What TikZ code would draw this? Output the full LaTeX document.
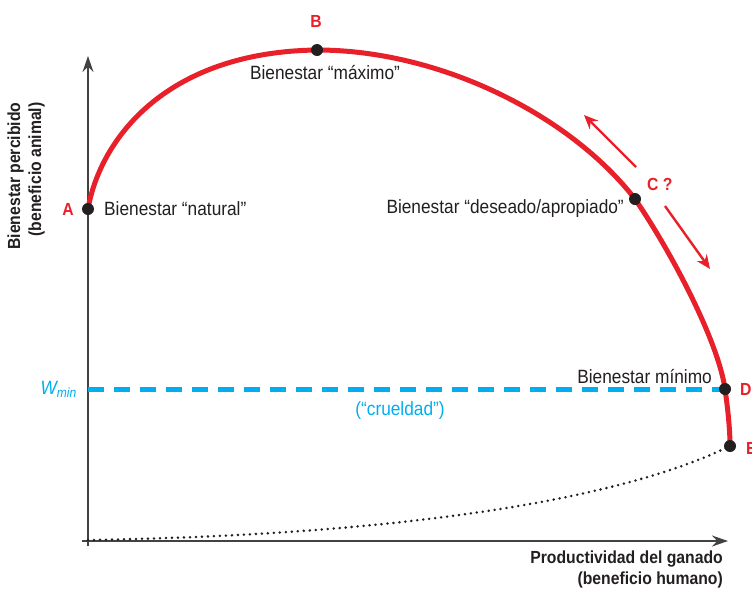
\documentclass[tikz,border=0pt]{standalone}
\usepackage{fontspec}
\setmainfont{Liberation Sans}[FakeStretch=0.9]
\usetikzlibrary{arrows.meta}
\definecolor{redc}{HTML}{E8202A}
\definecolor{bluec}{HTML}{00AEEF}
\definecolor{ink}{HTML}{231F20}
\begin{document}
\begin{tikzpicture}[x=1pt,y=-1pt,
  every node/.style={font=\fontsize{19.2}{22}\selectfont, text=ink, inner sep=0pt},
  dot/.style={circle, fill=ink, minimum size=12pt, inner sep=0pt},
  axis/.style={draw=ink!85, line width=1.4pt, -{Stealth[length=16pt,width=11pt]}},
  redcurve/.style={draw=redc, line width=5pt},
  redarrow/.style={draw=redc, line width=2.4pt, -{Stealth[length=14pt,width=12pt]}},
  letter/.style={font=\fontsize{17.5}{19}\selectfont\bfseries, text=redc},
  axlabel/.style={font=\fontsize{17.5}{21}\selectfont\bfseries, align=right},
  cyantext/.style={text=bluec}
]
\useasboundingbox (0,0) rectangle (752,592);
% axes
\coordinate (ytop) at (88,56);
\coordinate (xend) at (728,541);
\coordinate (ystart) at (88,546);
\coordinate (xstart) at (82,541);
\draw[axis] (ystart) -- (ytop);
\draw[axis] (xstart) -- (xend);
% points
\coordinate (A) at (88,209);
\coordinate (B) at (317,50);
\coordinate (C) at (635,199);
\coordinate (D) at (725,389);
\coordinate (E) at (730,446);
\coordinate (W0) at (88,389);
\coordinate (S0) at (88,540);
% dashed line
\draw[bluec, line width=5pt, dash pattern=on 16pt off 10pt] (W0) -- (D);
% dotted curve
\draw[ink, line width=2.8pt, line cap=round, dash pattern=on 0pt off 6pt] (S0) .. controls (400,535) and (620,500) .. (E);
% red curve
\draw[redcurve] (A) .. controls (100,140) and (165,52) .. (B)
  .. controls (440,50) and (570,115) .. (C)
  .. controls (670,250) and (718,340) .. (D)
  .. controls (728,410) and (730,430) .. (E);
% dots
\node[dot] (nA) at (A) {};
\node[dot] (nB) at (B) {};
\node[dot] (nC) at (C) {};
\node[dot] (nD) at (D) {};
\node[dot] (nE) at (E) {};
% red arrows
\coordinate (u1) at (636,167);
\coordinate (u2) at (584,115);
\coordinate (l1) at (665,206);
\coordinate (l2) at (710,269);
\draw[redarrow] (u1) -- (u2);
\draw[redarrow] (l1) -- (l2);
% letters
\node[letter] (lA) at (68,209) {A};
\node[letter] (lB) at (316,21) {B};
\node[letter, anchor=west] (lC) at (647,184) {C ?};
\node[letter, anchor=west] (lD) at (740,389) {D};
\node[letter, anchor=west] (lE) at (746,448) {E};
% labels
\node[anchor=west] (tA) at (104,209) {Bienestar “natural”};
\node (tB) at (325,73) {Bienestar “máximo”};
\node[anchor=east] (tC) at (624,209) {Bienestar “deseado/apropiado”};
\node[anchor=east] (tD) at (712,377) {Bienestar mínimo};
\node[cyantext, anchor=east] (wmin) at (77,389) {\itshape W\textsubscript{min}};
\node[cyantext] (cru) at (400,411) {(“crueldad”)};
\node[axlabel, rotate=90] (ylab) at (26,176) {Bienestar percibido\\(beneficio animal)};
\node[axlabel, anchor=north east] (xlab) at (723,551) {Productividad del ganado\\(beneficio humano)};
\end{tikzpicture}
\end{document}
